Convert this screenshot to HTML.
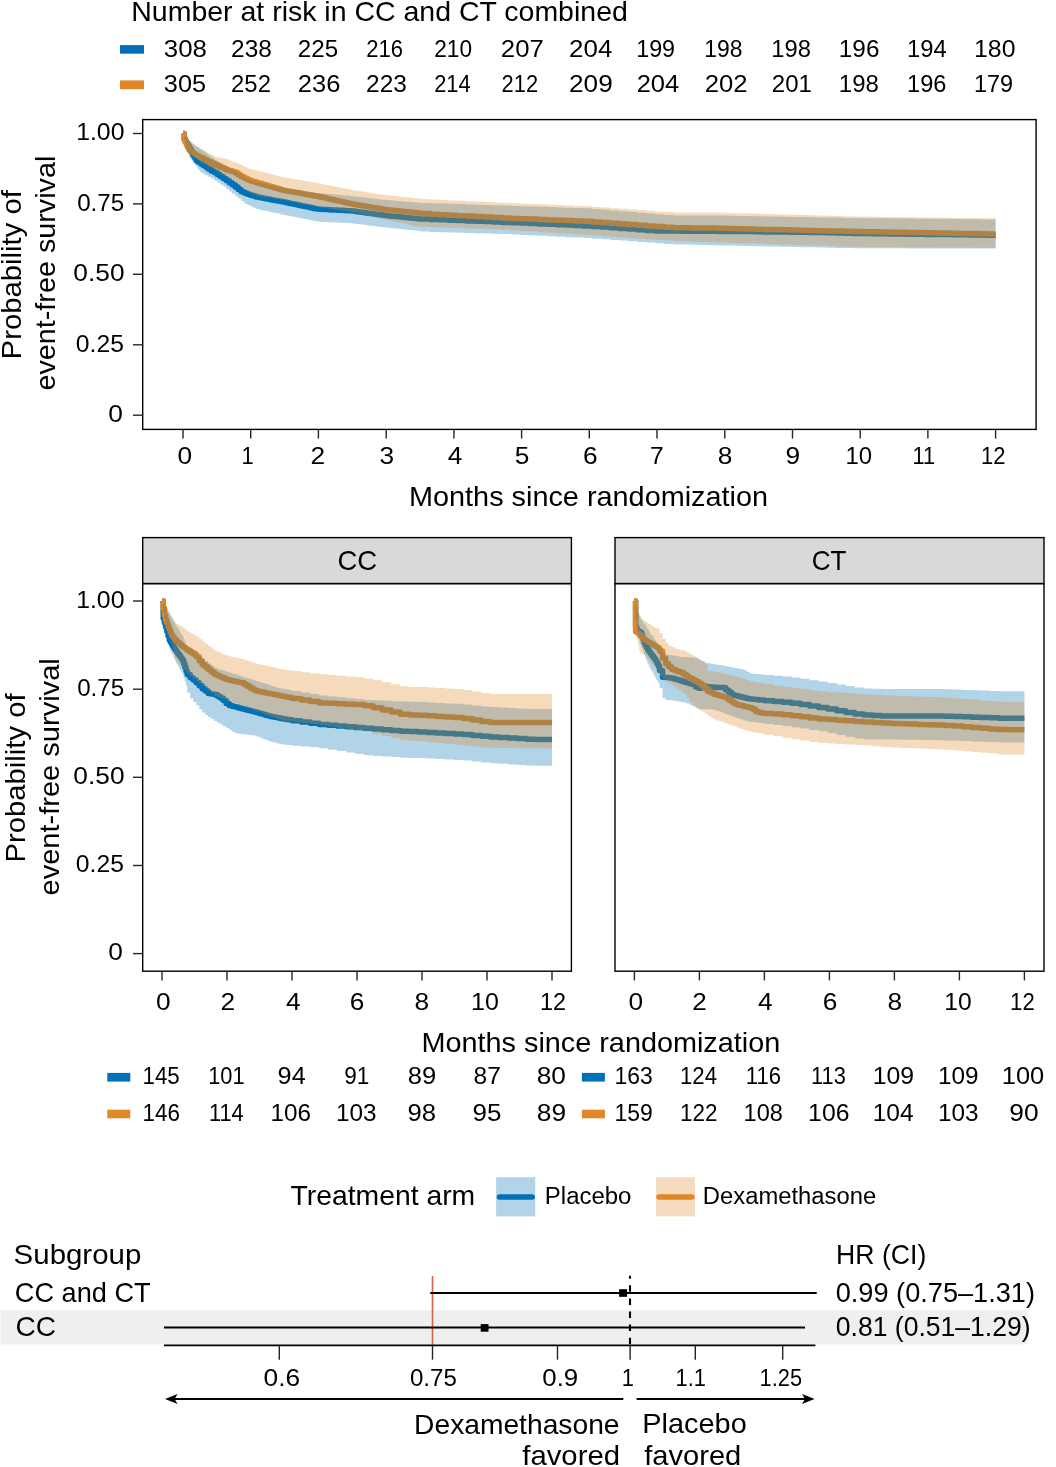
<!DOCTYPE html><html><head><meta charset="utf-8"><style>html,body{margin:0;padding:0;background:#fff;}svg{display:block;will-change:transform;}text{font-family:"Liberation Sans", sans-serif;fill:#000;}</style></head><body>
<svg width="1056" height="1467" viewBox="0 0 1056 1467">
<rect width="1056" height="1467" fill="#fff"/>
<text x="131.26" y="21.0" font-size="28" textLength="496.58" lengthAdjust="spacingAndGlyphs">Number at risk in CC and CT combined</text>
<rect x="120" y="45.1" width="24" height="8.6" fill="#0071B6"/>
<rect x="120" y="80.4" width="24" height="8.8" fill="#E08727"/>
<text x="163.81" y="56.7" font-size="23.5" textLength="43.11" lengthAdjust="spacingAndGlyphs">308</text>
<text x="163.83" y="91.9" font-size="23.5" textLength="42.26" lengthAdjust="spacingAndGlyphs">305</text>
<text x="231.05" y="56.7" font-size="23.5" textLength="40.8" lengthAdjust="spacingAndGlyphs">238</text>
<text x="231.08" y="91.9" font-size="23.5" textLength="39.85" lengthAdjust="spacingAndGlyphs">252</text>
<text x="297.86" y="56.7" font-size="23.5" textLength="40.38" lengthAdjust="spacingAndGlyphs">225</text>
<text x="297.8" y="91.9" font-size="23.5" textLength="42.61" lengthAdjust="spacingAndGlyphs">236</text>
<text x="366.17" y="56.7" font-size="23.5" textLength="36.77" lengthAdjust="spacingAndGlyphs">216</text>
<text x="366.05" y="91.9" font-size="23.5" textLength="40.8" lengthAdjust="spacingAndGlyphs">223</text>
<text x="434.24" y="56.7" font-size="23.5" textLength="37.84" lengthAdjust="spacingAndGlyphs">210</text>
<text x="434.19" y="91.9" font-size="23.5" textLength="36.47" lengthAdjust="spacingAndGlyphs">214</text>
<text x="500.89" y="56.7" font-size="23.5" textLength="42.94" lengthAdjust="spacingAndGlyphs">207</text>
<text x="501.62" y="91.9" font-size="23.5" textLength="36.47" lengthAdjust="spacingAndGlyphs">212</text>
<text x="569.08" y="56.7" font-size="23.5" textLength="43.21" lengthAdjust="spacingAndGlyphs">204</text>
<text x="569.06" y="91.9" font-size="23.5" textLength="43.67" lengthAdjust="spacingAndGlyphs">209</text>
<text x="636.21" y="56.7" font-size="23.5" textLength="38.89" lengthAdjust="spacingAndGlyphs">199</text>
<text x="636.7" y="91.9" font-size="23.5" textLength="42.57" lengthAdjust="spacingAndGlyphs">204</text>
<text x="704.34" y="56.7" font-size="23.5" textLength="38.24" lengthAdjust="spacingAndGlyphs">198</text>
<text x="704.79" y="91.9" font-size="23.5" textLength="42.83" lengthAdjust="spacingAndGlyphs">202</text>
<text x="771.28" y="56.7" font-size="23.5" textLength="39.64" lengthAdjust="spacingAndGlyphs">198</text>
<text x="771.87" y="91.9" font-size="23.5" textLength="40.06" lengthAdjust="spacingAndGlyphs">201</text>
<text x="838.84" y="56.7" font-size="23.5" textLength="40.62" lengthAdjust="spacingAndGlyphs">196</text>
<text x="838.87" y="91.9" font-size="23.5" textLength="39.97" lengthAdjust="spacingAndGlyphs">198</text>
<text x="907.08" y="56.7" font-size="23.5" textLength="39.64" lengthAdjust="spacingAndGlyphs">194</text>
<text x="907.1" y="91.9" font-size="23.5" textLength="39.32" lengthAdjust="spacingAndGlyphs">196</text>
<text x="974.0" y="56.7" font-size="23.5" textLength="41.47" lengthAdjust="spacingAndGlyphs">180</text>
<text x="974.11" y="91.9" font-size="23.5" textLength="38.99" lengthAdjust="spacingAndGlyphs">179</text>
<clipPath id="ctop"><rect x="142.7" y="119.6" width="893.3999999999999" height="309.79999999999995"/></clipPath>
<g clip-path="url(#ctop)">
<path d="M183.0,133.5H184.2V138.7H185.4V141.7H186.6V143.8H187.8V145.9H189.0V147.9H190.2V150.0H191.4V152.1H192.6V154.2H193.8V156.3H195.0V158.3H196.2V160.4H197.4V161.4H198.6V162.2H199.8V163.0H201.0V163.9H202.2V164.7H203.4V165.6H204.6V166.3H205.8V167.0H207.0V167.8H208.2V169.0H211.2V170.9H214.2V172.6H217.2V174.4H220.2V176.4H223.2V178.5H226.2V180.6H229.2V182.7H232.2V184.8H235.2V187.1H238.2V189.5H241.2V191.8H244.2V193.0H247.2V194.2H250.2V195.2H253.2V196.1H256.2V197.0H259.2V197.6H262.2V198.2H265.2V198.7H268.2V199.3H271.2V199.9H274.2V200.4H277.2V201.0H280.2V201.5H283.2V202.1H286.2V202.7H289.2V203.4H292.2V204.0H295.2V204.6H298.2V205.2H301.2V205.9H304.2V206.5H307.2V207.1H310.2V207.7H313.2V208.4H316.2V209.0H319.2V209.2H322.2V209.4H325.2V209.5H328.2V209.7H331.2V209.9H334.2V210.0H337.2V210.2H340.2V210.3H343.2V210.5H346.2V210.7H349.2V210.8H352.2V211.1H355.2V211.5H358.2V211.9H361.2V212.3H364.2V212.7H367.2V213.2H370.2V213.6H373.2V214.0H376.2V214.4H379.2V214.8H382.2V215.2H385.2V215.6H388.2V215.9H391.2V216.2H394.2V216.5H397.2V216.8H400.2V217.1H403.2V217.4H406.2V217.7H409.2V218.0H412.2V218.3H415.2V218.6H418.2V218.9H421.2V219.1H430.2V219.5H439.2V219.8H448.2V220.2H457.2V220.6H466.2V220.9H475.2V221.3H484.2V221.6H493.2V222.0H502.2V222.4H511.2V222.8H520.2V223.1H529.2V223.5H538.2V223.9H547.2V224.3H556.2V224.7H565.2V225.1H574.2V225.5H583.2V225.9H592.2V226.4H601.2V227.1H610.2V227.8H619.2V228.4H628.2V229.1H637.2V229.7H646.2V230.4H655.2V231.0H664.2V231.1H673.2V231.1H682.2V231.2H691.2V231.2H700.2V231.3H709.2V231.3H718.2V231.4H727.2V231.5H736.2V231.5H745.2V231.6H754.2V231.7H763.2V231.9H772.2V232.0H781.2V232.1H790.2V232.2H799.2V232.3H808.2V232.4H817.2V232.6H826.2V232.8H835.2V233.0H844.2V233.3H853.2V233.5H862.2V233.6H871.2V233.7H880.2V233.8H889.2V233.9H898.2V234.0H907.2V234.2H916.2V234.3H925.2V234.4H934.2V234.5H943.2V234.6H952.2V234.7H961.2V234.8H970.2V234.9H979.2V235.1H988.2V235.2H995.6" fill="none" stroke="#0071B6" stroke-width="5.5" stroke-linejoin="round"/>
<path d="M183.0,133.5H184.2V139.9H185.4V142.5H186.6V145.2H187.8V147.8H189.0V150.1H190.2V151.0H191.4V151.8H192.6V152.7H193.8V153.5H195.0V154.4H196.2V155.2H197.4V155.8H198.6V156.4H199.8V157.0H201.0V157.6H202.2V158.2H203.4V158.8H204.6V159.4H205.8V160.0H207.0V160.6H208.2V161.7H211.2V163.2H214.2V164.5H217.2V165.9H220.2V167.2H223.2V168.6H226.2V169.9H229.2V170.8H232.2V171.7H235.2V173.1H238.2V174.9H241.2V176.7H244.2V178.2H247.2V179.8H250.2V181.0H253.2V181.8H256.2V182.7H259.2V183.5H262.2V184.4H265.2V185.3H268.2V186.2H271.2V187.1H274.2V187.9H277.2V188.8H280.2V189.7H283.2V190.5H286.2V191.0H289.2V191.6H292.2V192.1H295.2V192.6H298.2V193.1H301.2V193.7H304.2V194.2H307.2V194.7H310.2V195.3H313.2V195.8H316.2V196.3H319.2V197.0H322.2V197.6H325.2V198.3H328.2V199.0H331.2V199.6H334.2V200.3H337.2V201.0H340.2V201.6H343.2V202.3H346.2V203.0H349.2V203.6H352.2V204.2H355.2V204.7H358.2V205.2H361.2V205.7H364.2V206.2H367.2V206.7H370.2V207.2H373.2V207.7H376.2V208.2H379.2V208.7H382.2V209.2H385.2V209.7H388.2V210.0H391.2V210.3H394.2V210.6H397.2V210.9H400.2V211.2H403.2V211.5H406.2V211.8H409.2V212.1H412.2V212.4H415.2V212.7H418.2V213.0H421.2V213.6H430.2V214.2H439.2V214.7H448.2V215.2H457.2V215.7H466.2V216.1H475.2V216.6H484.2V217.1H493.2V217.6H502.2V218.1H511.2V218.4H520.2V218.8H529.2V219.1H538.2V219.5H547.2V219.9H556.2V220.2H565.2V220.6H574.2V220.9H583.2V221.3H592.2V221.9H601.2V222.5H610.2V223.2H619.2V223.9H628.2V224.5H637.2V225.2H646.2V225.9H655.2V226.5H664.2V227.2H673.2V227.7H682.2V227.8H691.2V227.9H700.2V228.0H709.2V228.1H718.2V228.3H727.2V228.5H736.2V228.7H745.2V229.0H754.2V229.2H763.2V229.4H772.2V229.6H781.2V229.8H790.2V230.0H799.2V230.2H808.2V230.5H817.2V230.7H826.2V230.9H835.2V231.1H844.2V231.3H853.2V231.5H862.2V231.7H871.2V231.8H880.2V232.0H889.2V232.2H898.2V232.3H907.2V232.5H916.2V232.6H925.2V232.8H934.2V233.0H943.2V233.1H952.2V233.3H961.2V233.5H970.2V233.6H979.2V233.8H988.2V233.9H995.6" fill="none" stroke="#E08727" stroke-width="5.5" stroke-linejoin="round"/>
<path d="M183.0,133.5H184.2V135.4H185.4V136.6H186.6V137.9H187.8V139.2H189.0V140.4H190.2V141.7H191.4V142.9H192.6V144.1H193.8V144.9H195.0V145.7H196.2V146.5H197.4V147.3H198.6V148.1H199.8V148.9H201.0V149.7H202.2V150.5H203.4V151.3H204.6V152.1H205.8V153.0H207.0V153.9H208.2V155.4H211.2V157.6H214.2V159.8H217.2V161.7H220.2V163.6H223.2V165.5H226.2V167.3H229.2V168.7H232.2V170.0H235.2V171.4H238.2V173.1H241.2V175.1H244.2V177.1H247.2V179.1H250.2V180.5H253.2V181.3H256.2V182.0H259.2V182.7H262.2V183.4H265.2V184.1H268.2V184.8H271.2V185.4H274.2V186.1H277.2V186.8H280.2V187.5H283.2V188.1H286.2V188.5H289.2V189.0H292.2V189.4H295.2V189.9H298.2V190.3H301.2V190.7H304.2V191.2H307.2V191.6H310.2V192.1H313.2V192.5H316.2V193.0H319.2V193.2H322.2V193.5H325.2V193.8H328.2V194.0H331.2V194.3H334.2V194.6H337.2V194.8H340.2V195.1H343.2V195.4H346.2V195.6H349.2V195.9H352.2V196.2H355.2V196.6H358.2V196.9H361.2V197.3H364.2V197.6H367.2V198.0H370.2V198.3H373.2V198.7H376.2V199.0H379.2V199.4H382.2V199.7H385.2V200.1H388.2V200.3H391.2V200.5H394.2V200.8H397.2V201.0H400.2V201.2H403.2V201.5H406.2V201.7H409.2V202.0H412.2V202.2H415.2V202.4H418.2V202.7H421.2V202.9H430.2V203.2H439.2V203.5H448.2V203.8H457.2V204.1H466.2V204.4H475.2V204.7H484.2V205.0H493.2V205.3H502.2V205.6H511.2V205.9H520.2V206.2H529.2V206.5H538.2V206.8H547.2V207.1H556.2V207.4H565.2V207.7H574.2V208.0H583.2V208.3H592.2V209.0H601.2V209.7H610.2V210.5H619.2V211.2H628.2V212.0H637.2V212.7H646.2V213.5H655.2V214.2H664.2V215.0H673.2V215.5H682.2V215.5H691.2V215.5H700.2V215.5H709.2V215.5H718.2V215.6H727.2V215.8H736.2V215.9H745.2V216.1H754.2V216.3H763.2V216.4H772.2V216.6H781.2V216.8H790.2V216.9H799.2V217.1H808.2V217.3H817.2V217.4H826.2V217.6H835.2V217.8H844.2V217.9H853.2V218.1H862.2V218.2H871.2V218.2H880.2V218.3H889.2V218.4H898.2V218.5H907.2V218.6H916.2V218.7H925.2V218.8H934.2V218.9H943.2V219.0H952.2V219.1H961.2V219.2H970.2V219.3H979.2V219.4H988.2V219.5H995.6V248.6H988.2V248.6H979.2V248.5H970.2V248.5H961.2V248.5H952.2V248.5H943.2V248.4H934.2V248.4H925.2V248.4H916.2V248.4H907.2V248.3H898.2V248.3H889.2V248.3H880.2V248.3H871.2V248.2H862.2V248.2H853.2V248.1H844.2V247.9H835.2V247.7H826.2V247.5H817.2V247.3H808.2V247.2H799.2V247.0H790.2V246.8H781.2V246.6H772.2V246.4H763.2V246.2H754.2V246.0H745.2V245.8H736.2V245.6H727.2V245.4H718.2V245.2H709.2V245.0H700.2V244.8H691.2V244.6H682.2V244.4H673.2V243.9H664.2V243.2H655.2V242.6H646.2V241.9H637.2V241.3H628.2V240.6H619.2V240.0H610.2V239.3H601.2V238.7H592.2V238.1H583.2V237.6H574.2V237.2H565.2V236.7H556.2V236.3H547.2V235.8H538.2V235.4H529.2V235.0H520.2V234.5H511.2V234.1H502.2V233.8H493.2V233.5H484.2V233.3H475.2V233.0H466.2V232.7H457.2V232.5H448.2V232.2H439.2V232.0H430.2V231.5H421.2V230.9H418.2V230.6H415.2V230.3H412.2V230.0H409.2V229.7H406.2V229.4H403.2V229.1H400.2V228.8H397.2V228.5H394.2V228.2H391.2V227.9H388.2V227.6H385.2V227.3H382.2V226.9H379.2V226.5H376.2V226.1H373.2V225.7H370.2V225.4H367.2V225.0H364.2V224.6H361.2V224.2H358.2V223.9H355.2V223.5H352.2V223.2H349.2V223.1H346.2V222.9H343.2V222.8H340.2V222.6H337.2V222.5H334.2V222.3H331.2V222.2H328.2V222.0H325.2V221.9H322.2V221.7H319.2V221.5H316.2V220.9H313.2V220.3H310.2V219.7H307.2V219.1H304.2V218.5H301.2V217.9H298.2V217.3H295.2V216.7H292.2V216.1H289.2V215.5H286.2V214.9H283.2V214.3H280.2V213.6H277.2V213.0H274.2V212.4H271.2V211.7H268.2V211.1H265.2V210.4H262.2V209.8H259.2V209.1H256.2V207.8H253.2V206.4H250.2V205.0H247.2V203.4H244.2V201.0H241.2V198.6H238.2V196.2H235.2V193.8H232.2V191.4H229.2V189.0H226.2V186.6H223.2V184.4H220.2V182.4H217.2V180.4H214.2V178.4H211.2V176.7H208.2V175.6H207.0V175.0H205.8V174.4H204.6V173.7H203.4V173.1H202.2V172.5H201.0V171.6H199.8V170.0H198.6V168.4H197.4V166.8H196.2V165.1H195.0V163.5H193.8V161.9H192.6V160.3H191.4V158.7H190.2V157.1H189.0V153.2H187.8V148.8H186.6V144.4H185.4V140.1H184.2V133.5H183.0Z" fill="#0071B6" fill-opacity="0.3"/>
<path d="M183.0,133.5H184.2V135.3H185.4V136.6H186.6V137.8H187.8V139.0H189.0V140.2H190.2V141.5H191.4V142.7H192.6V143.9H193.8V144.6H195.0V145.4H196.2V146.1H197.4V146.8H198.6V147.6H199.8V148.3H201.0V149.0H202.2V149.8H203.4V150.5H204.6V151.2H205.8V151.8H207.0V152.4H208.2V153.5H211.2V155.1H214.2V156.7H217.2V157.4H220.2V158.0H223.2V158.6H226.2V159.3H229.2V160.5H232.2V161.7H235.2V162.8H238.2V164.1H241.2V165.5H244.2V166.9H247.2V168.3H250.2V169.3H253.2V169.9H256.2V170.6H259.2V171.3H262.2V172.1H265.2V172.9H268.2V173.6H271.2V174.4H274.2V175.2H277.2V175.9H280.2V176.7H283.2V177.4H286.2V177.9H289.2V178.4H292.2V179.0H295.2V179.5H298.2V180.0H301.2V180.5H304.2V181.0H307.2V181.6H310.2V182.1H313.2V182.6H316.2V183.1H319.2V183.7H322.2V184.3H325.2V184.9H328.2V185.5H331.2V186.1H334.2V186.7H337.2V187.3H340.2V187.9H343.2V188.5H346.2V189.1H349.2V189.7H352.2V190.2H355.2V190.7H358.2V191.1H361.2V191.6H364.2V192.0H367.2V192.5H370.2V193.0H373.2V193.4H376.2V193.9H379.2V194.3H382.2V194.8H385.2V195.2H388.2V195.5H391.2V195.8H394.2V196.1H397.2V196.4H400.2V196.7H403.2V197.0H406.2V197.3H409.2V197.6H412.2V197.9H415.2V198.2H418.2V198.5H421.2V199.1H430.2V199.6H439.2V200.0H448.2V200.4H457.2V200.8H466.2V201.2H475.2V201.6H484.2V202.0H493.2V202.4H502.2V202.8H511.2V203.2H520.2V203.5H529.2V203.9H538.2V204.3H547.2V204.7H556.2V205.1H565.2V205.5H574.2V205.9H583.2V206.3H592.2V206.9H601.2V207.5H610.2V208.2H619.2V208.8H628.2V209.5H637.2V210.1H646.2V210.8H655.2V211.4H664.2V212.1H673.2V212.6H682.2V212.6H691.2V212.6H700.2V212.6H709.2V212.6H718.2V212.7H727.2V213.0H736.2V213.2H745.2V213.5H754.2V213.7H763.2V214.0H772.2V214.3H781.2V214.5H790.2V214.8H799.2V215.0H808.2V215.3H817.2V215.5H826.2V215.8H835.2V216.1H844.2V216.3H853.2V216.5H862.2V216.6H871.2V216.7H880.2V216.9H889.2V217.0H898.2V217.1H907.2V217.2H916.2V217.4H925.2V217.5H934.2V217.6H943.2V217.7H952.2V217.9H961.2V218.0H970.2V218.1H979.2V218.2H988.2V218.3H995.6V247.8H988.2V247.7H979.2V247.7H970.2V247.6H961.2V247.5H952.2V247.5H943.2V247.4H934.2V247.3H925.2V247.3H916.2V247.2H907.2V247.2H898.2V247.1H889.2V247.0H880.2V247.0H871.2V246.9H862.2V246.8H853.2V246.7H844.2V246.4H835.2V246.1H826.2V245.8H817.2V245.5H808.2V245.3H799.2V245.0H790.2V244.7H781.2V244.4H772.2V244.1H763.2V243.8H754.2V243.5H745.2V243.2H736.2V242.9H727.2V242.7H718.2V242.3H709.2V242.0H700.2V241.7H691.2V241.4H682.2V241.1H673.2V240.6H664.2V240.0H655.2V239.4H646.2V238.8H637.2V238.2H628.2V237.6H619.2V237.0H610.2V236.4H601.2V235.7H592.2V235.1H583.2V234.6H574.2V234.0H565.2V233.4H556.2V232.8H547.2V232.2H538.2V231.6H529.2V231.0H520.2V230.4H511.2V229.8H502.2V229.5H493.2V229.1H484.2V228.8H475.2V228.5H466.2V228.2H457.2V227.9H448.2V227.6H439.2V227.3H430.2V227.0H421.2V226.7H418.2V226.1H415.2V225.5H412.2V224.9H409.2V224.3H406.2V223.7H403.2V223.1H400.2V222.5H397.2V221.9H394.2V221.3H391.2V220.7H388.2V220.1H385.2V219.5H382.2V218.8H379.2V218.0H376.2V217.3H373.2V216.6H370.2V215.9H367.2V215.2H364.2V214.5H361.2V213.8H358.2V213.1H355.2V212.4H352.2V211.8H349.2V211.4H346.2V210.9H343.2V210.5H340.2V210.0H337.2V209.6H334.2V209.2H331.2V208.7H328.2V208.3H325.2V207.8H322.2V207.4H319.2V206.9H316.2V206.3H313.2V205.7H310.2V205.1H307.2V204.5H304.2V203.8H301.2V203.2H298.2V202.6H295.2V202.0H292.2V201.4H289.2V200.8H286.2V200.1H283.2V199.7H280.2V199.2H277.2V198.7H274.2V198.3H271.2V197.8H268.2V197.4H265.2V196.9H262.2V196.5H259.2V196.0H256.2V194.5H253.2V193.0H250.2V191.4H247.2V189.8H244.2V187.6H241.2V185.4H238.2V183.2H235.2V181.2H232.2V179.5H229.2V177.7H226.2V176.0H223.2V174.2H220.2V172.3H217.2V170.4H214.2V168.4H211.2V166.8H208.2V165.8H207.0V165.2H205.8V164.6H204.6V164.0H203.4V163.4H202.2V162.8H201.0V162.2H199.8V161.1H198.6V159.8H197.4V158.5H196.2V157.2H195.0V155.9H193.8V154.6H192.6V153.3H191.4V152.0H190.2V150.7H189.0V148.3H187.8V145.0H186.6V141.7H185.4V138.4H184.2V133.5H183.0Z" fill="#E08727" fill-opacity="0.31"/>
</g>
<rect x="142.7" y="119.6" width="893.3999999999999" height="309.79999999999995" fill="none" stroke="#000" stroke-width="1.4"/>
<line x1="133" y1="133.5" x2="142.7" y2="133.5" stroke="#262626" stroke-width="1.4"/>
<text x="76.2" y="140.2" font-size="23.5" textLength="48.29" lengthAdjust="spacingAndGlyphs">1.00</text>
<line x1="133" y1="203.9" x2="142.7" y2="203.9" stroke="#262626" stroke-width="1.4"/>
<text x="77.17" y="210.6" font-size="23.5" textLength="47.1" lengthAdjust="spacingAndGlyphs">0.75</text>
<line x1="133" y1="274.3" x2="142.7" y2="274.3" stroke="#262626" stroke-width="1.4"/>
<text x="73.39" y="281.0" font-size="23.5" textLength="51.15" lengthAdjust="spacingAndGlyphs">0.50</text>
<line x1="133" y1="344.8" x2="142.7" y2="344.8" stroke="#262626" stroke-width="1.4"/>
<text x="75.85" y="351.5" font-size="23.5" textLength="48.14" lengthAdjust="spacingAndGlyphs">0.25</text>
<line x1="133" y1="415.2" x2="142.7" y2="415.2" stroke="#262626" stroke-width="1.4"/>
<text x="108.31" y="421.9" font-size="23.5" textLength="14.64" lengthAdjust="spacingAndGlyphs">0</text>
<line x1="183.0" y1="429.4" x2="183.0" y2="438.6" stroke="#262626" stroke-width="1.4"/>
<text x="177.56" y="463.9" font-size="23.5" textLength="14.64" lengthAdjust="spacingAndGlyphs">0</text>
<line x1="250.7" y1="429.4" x2="250.7" y2="438.6" stroke="#262626" stroke-width="1.4"/>
<text x="241.48" y="463.9" font-size="23.5" textLength="12.16" lengthAdjust="spacingAndGlyphs">1</text>
<line x1="318.4" y1="429.4" x2="318.4" y2="438.6" stroke="#262626" stroke-width="1.4"/>
<text x="310.61" y="463.9" font-size="23.5" textLength="14.64" lengthAdjust="spacingAndGlyphs">2</text>
<line x1="386.2" y1="429.4" x2="386.2" y2="438.6" stroke="#262626" stroke-width="1.4"/>
<text x="379.43" y="463.9" font-size="23.5" textLength="14.64" lengthAdjust="spacingAndGlyphs">3</text>
<line x1="453.9" y1="429.4" x2="453.9" y2="438.6" stroke="#262626" stroke-width="1.4"/>
<text x="447.78" y="463.9" font-size="23.5" textLength="14.64" lengthAdjust="spacingAndGlyphs">4</text>
<line x1="521.6" y1="429.4" x2="521.6" y2="438.6" stroke="#262626" stroke-width="1.4"/>
<text x="514.71" y="463.9" font-size="23.5" textLength="14.64" lengthAdjust="spacingAndGlyphs">5</text>
<line x1="589.3" y1="429.4" x2="589.3" y2="438.6" stroke="#262626" stroke-width="1.4"/>
<text x="583.06" y="463.9" font-size="23.5" textLength="14.64" lengthAdjust="spacingAndGlyphs">6</text>
<line x1="657.0" y1="429.4" x2="657.0" y2="438.6" stroke="#262626" stroke-width="1.4"/>
<text x="650.04" y="463.9" font-size="23.5" textLength="13.68" lengthAdjust="spacingAndGlyphs">7</text>
<line x1="724.8" y1="429.4" x2="724.8" y2="438.6" stroke="#262626" stroke-width="1.4"/>
<text x="717.77" y="463.9" font-size="23.5" textLength="14.64" lengthAdjust="spacingAndGlyphs">8</text>
<line x1="792.5" y1="429.4" x2="792.5" y2="438.6" stroke="#262626" stroke-width="1.4"/>
<text x="785.61" y="463.9" font-size="23.5" textLength="14.64" lengthAdjust="spacingAndGlyphs">9</text>
<line x1="860.2" y1="429.4" x2="860.2" y2="438.6" stroke="#262626" stroke-width="1.4"/>
<text x="845.57" y="463.9" font-size="23.5" textLength="26.59" lengthAdjust="spacingAndGlyphs">10</text>
<line x1="927.9" y1="429.4" x2="927.9" y2="438.6" stroke="#262626" stroke-width="1.4"/>
<text x="912.52" y="463.9" font-size="23.5" textLength="22.69" lengthAdjust="spacingAndGlyphs">11</text>
<line x1="995.6" y1="429.4" x2="995.6" y2="438.6" stroke="#262626" stroke-width="1.4"/>
<text x="981.02" y="463.9" font-size="23.5" textLength="24.45" lengthAdjust="spacingAndGlyphs">12</text>
<text x="409.03" y="505.9" font-size="28" textLength="359.04" lengthAdjust="spacingAndGlyphs">Months since randomization</text>
<text transform="translate(21.3,0) rotate(-90)" x="-359.41" y="0" font-size="28" textLength="169.37" lengthAdjust="spacingAndGlyphs">Probability of</text>
<text transform="translate(54.5,0) rotate(-90)" x="-390.53" y="0" font-size="28" textLength="234.84" lengthAdjust="spacingAndGlyphs">event-free survival</text>
<clipPath id="ccc"><rect x="142.7" y="583.6" width="428.7" height="387.6"/></clipPath>
<g clip-path="url(#ccc)">
<path d="M162.0,601.0H163.2V618.3H164.4V622.7H165.6V627.0H166.8V631.3H168.0V635.7H169.2V640.0H170.4V642.2H171.6V644.1H172.8V646.0H174.0V647.9H175.2V649.9H176.4V651.7H177.6V653.4H178.8V655.1H180.0V656.8H181.2V658.5H182.4V660.2H183.6V663.6H184.8V667.1H186.0V670.7H187.2V674.6H190.2V677.7H193.2V680.1H196.2V682.8H199.2V685.8H202.2V688.7H205.2V691.0H208.2V693.4H211.2V694.0H214.2V694.6H217.2V696.2H220.2V698.0H223.2V700.5H226.2V703.5H229.2V705.6H232.2V706.4H235.2V707.1H238.2V707.9H241.2V708.7H244.2V709.4H247.2V710.2H250.2V710.9H253.2V711.7H256.2V712.5H259.2V713.4H262.2V714.3H265.2V715.2H268.2V716.1H271.2V716.7H274.2V717.3H277.2V717.8H280.2V718.4H283.2V718.9H286.2V719.4H289.2V719.8H292.2V720.7H301.2V722.0H310.2V723.3H319.2V724.6H328.2V725.3H337.2V726.1H346.2V726.8H355.2V727.5H364.2V728.3H373.2V729.1H382.2V729.8H391.2V730.6H400.2V731.3H409.2V731.6H418.2V731.9H427.2V732.4H436.2V732.9H445.2V733.4H454.2V733.9H463.2V734.6H472.2V735.4H481.2V736.2H490.2V736.9H499.2V737.5H508.2V738.1H517.2V738.6H526.2V739.2H535.2V739.4H544.2V739.4H552.0" fill="none" stroke="#0071B6" stroke-width="5.5" stroke-linejoin="round"/>
<path d="M162.0,601.0H163.2V608.0H164.4V615.3H165.6V619.4H166.8V623.0H168.0V626.5H169.2V629.6H170.4V632.8H171.6V635.5H172.8V637.0H174.0V638.4H175.2V639.9H176.4V641.2H177.6V642.3H178.8V643.3H180.0V644.3H181.2V645.4H182.4V646.4H183.6V647.2H184.8V648.0H186.0V648.9H187.2V650.3H190.2V652.2H193.2V654.0H196.2V656.8H199.2V661.0H202.2V664.8H205.2V667.1H208.2V669.5H211.2V671.9H214.2V674.3H217.2V675.8H220.2V677.0H223.2V678.2H226.2V679.4H229.2V680.3H232.2V681.0H235.2V681.6H238.2V682.2H241.2V682.8H244.2V684.5H247.2V686.3H250.2V688.2H253.2V690.0H256.2V691.1H259.2V691.7H262.2V692.3H265.2V692.9H268.2V693.5H271.2V694.1H274.2V694.7H277.2V695.3H280.2V695.9H283.2V696.5H286.2V697.0H289.2V697.5H292.2V698.5H301.2V700.0H310.2V701.5H319.2V702.9H328.2V703.3H337.2V703.7H346.2V704.2H355.2V704.6H364.2V705.7H373.2V707.8H382.2V709.9H391.2V712.1H400.2V714.2H409.2V714.9H418.2V715.2H427.2V715.8H436.2V716.4H445.2V717.0H454.2V717.5H463.2V718.6H472.2V720.1H481.2V721.6H490.2V722.5H499.2V722.5H508.2V722.5H517.2V722.5H526.2V722.5H535.2V722.5H544.2V722.5H552.0" fill="none" stroke="#E08727" stroke-width="5.5" stroke-linejoin="round"/>
<path d="M162.0,601.0H163.2V603.9H164.4V605.9H165.6V607.8H166.8V609.8H168.0V611.7H169.2V613.7H170.4V615.8H171.6V618.0H172.8V620.2H174.0V622.4H175.2V624.5H176.4V626.6H177.6V628.5H178.8V630.5H180.0V632.4H181.2V634.3H182.4V636.2H183.6V639.2H184.8V642.2H186.0V645.1H187.2V646.8H190.2V649.2H193.2V651.7H196.2V654.1H199.2V656.5H202.2V658.8H205.2V661.0H208.2V663.3H211.2V665.5H214.2V667.8H217.2V669.0H220.2V669.9H223.2V670.8H226.2V671.8H229.2V672.7H232.2V673.7H235.2V674.6H238.2V675.6H241.2V676.5H244.2V677.5H247.2V678.4H250.2V679.3H253.2V680.3H256.2V681.2H259.2V682.2H262.2V683.1H265.2V684.1H268.2V685.0H271.2V686.0H274.2V686.9H277.2V687.9H280.2V688.6H283.2V689.1H286.2V689.6H289.2V690.1H292.2V691.1H301.2V692.6H310.2V694.1H319.2V695.5H328.2V696.4H337.2V697.3H346.2V698.2H355.2V699.1H364.2V699.9H373.2V700.3H382.2V700.8H391.2V701.2H400.2V701.6H409.2V701.8H418.2V702.0H427.2V702.5H436.2V702.9H445.2V703.4H454.2V703.8H463.2V704.5H472.2V705.4H481.2V706.4H490.2V707.1H499.2V707.5H508.2V708.0H517.2V708.4H526.2V708.9H535.2V709.0H544.2V709.0H552.0V765.8H544.2V765.8H535.2V765.6H526.2V765.0H517.2V764.4H508.2V763.8H499.2V763.2H490.2V762.5H481.2V761.5H472.2V760.6H463.2V759.9H454.2V759.5H445.2V759.0H436.2V758.6H427.2V758.1H418.2V757.9H409.2V757.7H400.2V757.1H391.2V756.5H382.2V755.9H373.2V755.2H364.2V754.1H355.2V752.6H346.2V751.1H337.2V749.7H328.2V748.2H319.2V747.3H310.2V746.5H301.2V745.7H292.2V745.1H289.2V744.9H286.2V744.6H283.2V744.2H280.2V743.4H277.2V742.7H274.2V741.9H271.2V741.2H268.2V740.1H265.2V738.9H262.2V737.6H259.2V736.4H256.2V735.6H253.2V735.2H250.2V734.8H247.2V734.4H244.2V734.0H241.2V733.7H238.2V733.3H235.2V731.7H232.2V729.9H229.2V728.1H226.2V726.3H223.2V724.5H220.2V722.7H217.2V720.9H214.2V719.1H211.2V717.3H208.2V714.9H205.2V712.6H202.2V709.2H199.2V705.6H196.2V702.0H193.2V698.4H190.2V692.6H187.2V685.9H186.0V682.1H184.8V678.3H183.6V674.6H182.4V672.5H181.2V670.3H180.0V668.1H178.8V666.0H177.6V663.8H176.4V661.5H175.2V659.1H174.0V656.7H172.8V654.3H171.6V651.9H170.4V649.1H169.2V641.7H168.0V634.3H166.8V626.9H165.6V619.5H164.4V612.1H163.2V601.0H162.0Z" fill="#0071B6" fill-opacity="0.3"/>
<path d="M162.0,601.0H163.2V602.6H164.4V604.0H165.6V606.3H166.8V608.5H168.0V610.8H169.2V613.0H170.4V615.4H171.6V617.8H172.8V620.0H174.0V621.5H175.2V623.0H176.4V624.0H177.6V624.6H178.8V625.2H180.0V625.8H181.2V626.4H182.4V627.0H183.6V628.0H184.8V628.9H186.0V629.9H187.2V631.5H190.2V633.3H193.2V634.8H196.2V636.7H199.2V639.2H202.2V641.6H205.2V643.9H208.2V646.3H211.2V648.4H214.2V650.6H217.2V652.0H220.2V653.2H223.2V654.4H226.2V655.6H229.2V656.5H232.2V657.1H235.2V657.7H238.2V658.3H241.2V658.9H244.2V659.9H247.2V661.0H250.2V662.0H253.2V663.1H256.2V663.9H259.2V664.5H262.2V665.1H265.2V665.7H268.2V666.3H271.2V667.0H274.2V667.8H277.2V668.5H280.2V669.3H283.2V669.7H286.2V670.1H289.2V670.4H292.2V671.1H301.2V672.2H310.2V673.2H319.2V674.2H328.2V674.9H337.2V675.7H346.2V676.4H355.2V677.1H364.2V678.4H373.2V680.3H382.2V682.3H391.2V684.3H400.2V686.2H409.2V686.9H418.2V687.1H427.2V687.6H436.2V688.0H445.2V688.5H454.2V688.9H463.2V690.0H472.2V691.6H481.2V693.2H490.2V694.1H499.2V694.1H508.2V694.1H517.2V694.1H526.2V694.1H535.2V694.1H544.2V694.1H552.0V748.4H544.2V748.3H535.2V748.3H526.2V748.2H517.2V748.1H508.2V748.1H499.2V748.0H490.2V747.5H481.2V746.6H472.2V745.7H463.2V744.8H454.2V743.9H445.2V743.0H436.2V742.2H427.2V741.3H418.2V740.9H409.2V740.2H400.2V738.1H391.2V736.0H382.2V733.9H373.2V731.8H364.2V730.2H355.2V729.0H346.2V727.7H337.2V726.4H328.2V725.2H319.2V724.1H310.2V723.1H301.2V722.2H292.2V721.5H289.2V721.2H286.2V720.8H283.2V720.3H280.2V719.2H277.2V718.0H274.2V716.9H271.2V715.8H268.2V714.7H265.2V713.6H262.2V712.5H259.2V711.4H256.2V710.2H253.2V709.1H250.2V708.0H247.2V706.9H244.2V705.8H241.2V704.7H238.2V703.6H235.2V702.5H232.2V701.3H229.2V700.2H226.2V699.1H223.2V698.0H220.2V696.9H217.2V695.5H214.2V693.1H211.2V690.7H208.2V688.3H205.2V685.9H202.2V683.5H199.2V681.1H196.2V678.7H193.2V676.3H190.2V673.7H187.2V671.6H186.0V670.4H184.8V669.2H183.6V668.1H182.4V666.9H181.2V665.7H180.0V664.5H178.8V663.3H177.6V662.1H176.4V658.7H175.2V653.7H174.0V648.6H172.8V643.6H171.6V638.6H170.4V633.6H169.2V628.6H168.0V623.6H166.8V618.6H165.6V613.5H164.4V608.5H163.2V601.0H162.0Z" fill="#E08727" fill-opacity="0.31"/>
</g>
<rect x="142.7" y="537.6" width="428.7" height="46.0" fill="#D9D9D9" stroke="#000" stroke-width="1.4"/>
<rect x="142.7" y="583.6" width="428.7" height="387.6" fill="none" stroke="#000" stroke-width="1.4"/>
<text x="337.53" y="569.6" font-size="28" textLength="39.69" lengthAdjust="spacingAndGlyphs">CC</text>
<line x1="162" y1="971.2" x2="162" y2="980.4" stroke="#262626" stroke-width="1.4"/>
<text x="156.01" y="1010.2" font-size="23.5" textLength="14.64" lengthAdjust="spacingAndGlyphs">0</text>
<line x1="227" y1="971.2" x2="227" y2="980.4" stroke="#262626" stroke-width="1.4"/>
<text x="220.61" y="1010.2" font-size="23.5" textLength="14.64" lengthAdjust="spacingAndGlyphs">2</text>
<line x1="292" y1="971.2" x2="292" y2="980.4" stroke="#262626" stroke-width="1.4"/>
<text x="285.98" y="1010.2" font-size="23.5" textLength="14.64" lengthAdjust="spacingAndGlyphs">4</text>
<line x1="357" y1="971.2" x2="357" y2="980.4" stroke="#262626" stroke-width="1.4"/>
<text x="349.86" y="1010.2" font-size="23.5" textLength="14.64" lengthAdjust="spacingAndGlyphs">6</text>
<line x1="422" y1="971.2" x2="422" y2="980.4" stroke="#262626" stroke-width="1.4"/>
<text x="414.57" y="1010.2" font-size="23.5" textLength="14.64" lengthAdjust="spacingAndGlyphs">8</text>
<line x1="487" y1="971.2" x2="487" y2="980.4" stroke="#262626" stroke-width="1.4"/>
<text x="471.09" y="1010.2" font-size="23.5" textLength="27.81" lengthAdjust="spacingAndGlyphs">10</text>
<line x1="552" y1="971.2" x2="552" y2="980.4" stroke="#262626" stroke-width="1.4"/>
<text x="540.01" y="1010.2" font-size="23.5" textLength="26.03" lengthAdjust="spacingAndGlyphs">12</text>
<clipPath id="cct"><rect x="615.0" y="583.6" width="429.0" height="387.6"/></clipPath>
<g clip-path="url(#cct)">
<path d="M634.4,601.0H635.6V627.1H636.8V630.4H638.0V631.0H639.2V631.5H640.4V632.3H641.6V635.7H642.8V639.1H644.0V642.5H645.2V645.0H646.4V647.2H647.6V649.5H648.8V651.4H650.0V653.1H651.2V654.7H652.4V656.3H653.6V658.0H654.8V659.6H656.0V661.4H657.2V663.8H658.4V666.3H659.6V670.5H662.6V677.2H665.6V677.5H668.6V677.8H671.6V678.3H674.6V679.2H677.6V680.0H680.6V680.9H683.6V681.9H686.6V682.8H689.6V683.7H692.6V684.6H695.6V687.0H698.6V688.2H701.6V687.3H704.6V686.6H707.6V686.8H710.6V687.0H713.6V687.2H716.6V687.4H719.6V687.5H722.6V687.6H725.6V690.0H728.6V692.3H731.6V694.7H734.6V695.5H737.6V696.2H740.6V697.0H743.6V697.7H746.6V698.4H749.6V699.1H752.6V699.3H755.6V699.6H758.6V699.9H761.6V700.1H764.6V700.7H773.6V701.5H782.6V702.3H791.6V703.3H800.6V704.6H809.6V706.0H818.6V707.4H827.6V709.1H836.6V710.7H845.6V712.4H854.6V714.0H863.6V715.1H872.6V715.5H881.6V715.9H890.6V716.1H899.6V716.1H908.6V716.1H917.6V716.1H926.6V716.1H935.6V716.1H944.6V716.2H953.6V716.5H962.6V716.8H971.6V717.2H980.6V717.5H989.6V717.8H998.6V718.2H1007.6V718.2H1016.6V718.2H1024.4" fill="none" stroke="#0071B6" stroke-width="5.5" stroke-linejoin="round"/>
<path d="M634.4,601.0H635.6V631.7H636.8V632.4H638.0V633.2H639.2V634.5H640.4V635.8H641.6V637.1H642.8V638.4H644.0V639.5H645.2V640.2H646.4V641.0H647.6V641.7H648.8V642.4H650.0V643.1H651.2V643.9H652.4V644.6H653.6V645.3H654.8V646.0H656.0V646.7H657.2V647.3H658.4V648.0H659.6V651.1H662.6V658.3H665.6V663.7H668.6V666.8H671.6V669.3H674.6V670.4H677.6V671.4H680.6V672.5H683.6V674.6H686.6V676.7H689.6V678.4H692.6V679.9H695.6V681.5H698.6V683.3H701.6V685.2H704.6V688.6H707.6V691.2H710.6V692.7H713.6V694.2H716.6V695.0H719.6V695.9H722.6V696.7H725.6V697.8H728.6V700.0H731.6V702.1H734.6V704.1H737.6V704.9H740.6V705.6H743.6V706.4H746.6V707.1H749.6V707.7H752.6V709.3H755.6V711.6H758.6V712.6H761.6V712.9H764.6V713.4H773.6V714.1H782.6V714.8H791.6V715.7H800.6V716.8H809.6V718.0H818.6V719.0H827.6V719.6H836.6V720.2H845.6V720.8H854.6V721.4H863.6V721.9H872.6V722.4H881.6V723.0H890.6V723.4H899.6V723.7H908.6V724.0H917.6V724.4H926.6V724.7H935.6V725.0H944.6V725.4H953.6V726.1H962.6V726.8H971.6V727.5H980.6V728.2H989.6V728.9H998.6V729.6H1007.6V729.7H1016.6V729.7H1024.4" fill="none" stroke="#E08727" stroke-width="5.5" stroke-linejoin="round"/>
<path d="M634.4,601.0H635.6V606.1H636.8V609.5H638.0V612.9H639.2V616.3H640.4V618.8H641.6V620.5H642.8V622.2H644.0V623.9H645.2V625.6H646.4V627.6H647.6V629.5H648.8V631.4H650.0V633.3H651.2V635.0H652.4V636.6H653.6V638.3H654.8V640.0H656.0V641.7H657.2V643.4H658.4V645.0H659.6V648.1H662.6V652.9H665.6V654.5H668.6V655.1H671.6V655.6H674.6V656.0H677.6V656.5H680.6V656.9H683.6V657.0H686.6V657.2H689.6V657.3H692.6V657.4H695.6V658.1H698.6V659.8H701.6V661.2H704.6V662.5H707.6V663.3H710.6V663.8H713.6V664.2H716.6V664.7H719.6V665.1H722.6V665.7H725.6V666.3H728.6V666.9H731.6V667.5H734.6V668.1H737.6V668.7H740.6V669.3H743.6V669.9H746.6V671.8H749.6V673.5H752.6V673.7H755.6V674.0H758.6V674.2H761.6V674.5H764.6V675.0H773.6V675.7H782.6V676.5H791.6V677.5H800.6V678.8H809.6V680.2H818.6V681.6H827.6V683.1H836.6V684.6H845.6V686.1H854.6V687.6H863.6V688.5H872.6V688.7H881.6V689.0H890.6V689.1H899.6V689.1H908.6V689.1H917.6V689.1H926.6V689.1H935.6V689.1H944.6V689.2H953.6V689.5H962.6V689.9H971.6V690.2H980.6V690.6H989.6V690.9H998.6V691.3H1007.6V691.3H1016.6V691.3H1024.4V742.4H1016.6V742.4H1007.6V742.4H998.6V742.0H989.6V741.7H980.6V741.4H971.6V741.0H962.6V740.7H953.6V740.4H944.6V740.2H935.6V740.1H926.6V739.9H917.6V739.8H908.6V739.7H899.6V739.6H890.6V739.5H881.6V739.5H872.6V739.5H863.6V738.5H854.6V736.7H845.6V734.9H836.6V733.1H827.6V731.3H818.6V729.9H809.6V728.5H800.6V727.2H791.6V726.0H782.6V725.0H773.6V723.9H764.6V723.2H761.6V722.8H758.6V722.5H755.6V722.1H752.6V721.8H749.6V721.3H746.6V720.6H743.6V719.5H740.6V718.5H737.6V717.4H734.6V716.3H731.6V715.3H728.6V714.2H725.6V713.2H722.6V712.1H719.6V711.0H716.6V710.0H713.6V709.3H710.6V709.3H707.6V709.3H704.6V709.3H701.6V709.3H698.6V707.9H695.6V706.4H692.6V704.9H689.6V703.4H686.6V702.4H683.6V701.9H680.6V701.4H677.6V700.9H674.6V700.5H671.6V700.2H668.6V699.9H665.6V698.1H662.6V687.9H659.6V683.3H658.4V681.3H657.2V679.4H656.0V677.3H654.8V675.2H653.6V673.1H652.4V670.9H651.2V668.8H650.0V666.4H648.8V663.9H647.6V661.1H646.4V658.0H645.2V654.9H644.0V651.7H642.8V648.2H641.6V644.6H640.4V641.1H639.2V637.5H638.0V634.0H636.8V620.8H635.6V601.0H634.4Z" fill="#0071B6" fill-opacity="0.3"/>
<path d="M634.4,601.0H635.6V606.0H636.8V609.3H638.0V612.4H639.2V614.8H640.4V617.2H641.6V619.5H642.8V620.2H644.0V620.9H645.2V621.6H646.4V622.3H647.6V623.1H648.8V623.9H650.0V624.8H651.2V625.7H652.4V626.5H653.6V627.1H654.8V627.6H656.0V628.0H657.2V628.5H658.4V629.0H659.6V632.9H662.6V639.0H665.6V642.7H668.6V645.7H671.6V647.1H674.6V648.4H677.6V649.2H680.6V649.9H683.6V650.8H686.6V652.3H689.6V653.9H692.6V655.7H695.6V657.6H698.6V659.8H701.6V661.2H704.6V664.2H707.6V670.8H710.6V671.3H713.6V671.7H716.6V672.2H719.6V672.7H722.6V673.4H725.6V674.2H728.6V674.9H731.6V675.7H734.6V676.4H737.6V677.2H740.6V677.9H743.6V678.7H746.6V680.0H749.6V681.4H752.6V681.8H755.6V682.3H758.6V682.7H761.6V683.2H764.6V684.1H773.6V685.4H782.6V686.7H791.6V688.0H800.6V689.1H809.6V690.3H818.6V691.3H827.6V691.9H836.6V692.5H845.6V693.1H854.6V693.7H863.6V694.2H872.6V694.7H881.6V695.3H890.6V695.7H899.6V696.0H908.6V696.3H917.6V696.7H926.6V697.0H935.6V697.3H944.6V697.7H953.6V698.4H962.6V699.1H971.6V699.8H980.6V700.5H989.6V701.2H998.6V701.8H1007.6V701.9H1016.6V701.9H1024.4V754.5H1016.6V754.5H1007.6V754.4H998.6V753.6H989.6V752.8H980.6V752.0H971.6V751.3H962.6V750.5H953.6V749.7H944.6V749.2H935.6V748.9H926.6V748.6H917.6V748.2H908.6V747.9H899.6V747.6H890.6V747.0H881.6V746.3H872.6V745.5H863.6V744.9H854.6V744.5H845.6V744.0H836.6V743.6H827.6V743.1H818.6V741.9H809.6V740.6H800.6V739.3H791.6V737.8H782.6V736.3H773.6V734.8H764.6V733.8H761.6V733.3H758.6V732.8H755.6V732.3H752.6V731.8H749.6V731.0H746.6V730.1H743.6V729.0H740.6V727.9H737.6V726.8H734.6V725.8H731.6V724.7H728.6V723.6H725.6V722.5H722.6V721.4H719.6V720.4H716.6V719.3H713.6V717.8H710.6V715.7H707.6V713.6H704.6V711.5H701.6V709.4H698.6V707.3H695.6V705.2H692.6V702.2H689.6V698.2H686.6V694.1H683.6V691.8H680.6V689.6H677.6V687.4H674.6V685.3H671.6V683.5H668.6V681.7H665.6V679.6H662.6V675.7H659.6V673.0H658.4V671.5H657.2V670.0H656.0V668.4H654.8V666.9H653.6V665.3H652.4V663.8H651.2V662.3H650.0V660.6H648.8V659.0H647.6V657.4H646.4V655.7H645.2V654.8H644.0V654.3H642.8V653.7H641.6V653.2H640.4V650.3H639.2V645.2H638.0V640.0H636.8V624.4H635.6V601.0H634.4Z" fill="#E08727" fill-opacity="0.31"/>
</g>
<rect x="615.0" y="537.6" width="429.0" height="46.0" fill="#D9D9D9" stroke="#000" stroke-width="1.4"/>
<rect x="615.0" y="583.6" width="429.0" height="387.6" fill="none" stroke="#000" stroke-width="1.4"/>
<text x="811.68" y="569.6" font-size="28" textLength="34.71" lengthAdjust="spacingAndGlyphs">CT</text>
<line x1="634.4" y1="971.2" x2="634.4" y2="980.4" stroke="#262626" stroke-width="1.4"/>
<text x="628.56" y="1010.2" font-size="23.5" textLength="14.64" lengthAdjust="spacingAndGlyphs">0</text>
<line x1="699.4" y1="971.2" x2="699.4" y2="980.4" stroke="#262626" stroke-width="1.4"/>
<text x="692.27" y="1010.2" font-size="23.5" textLength="14.54" lengthAdjust="spacingAndGlyphs">2</text>
<line x1="764.4" y1="971.2" x2="764.4" y2="980.4" stroke="#262626" stroke-width="1.4"/>
<text x="757.98" y="1010.2" font-size="23.5" textLength="14.64" lengthAdjust="spacingAndGlyphs">4</text>
<line x1="829.4" y1="971.2" x2="829.4" y2="980.4" stroke="#262626" stroke-width="1.4"/>
<text x="822.86" y="1010.2" font-size="23.5" textLength="14.64" lengthAdjust="spacingAndGlyphs">6</text>
<line x1="894.4" y1="971.2" x2="894.4" y2="980.4" stroke="#262626" stroke-width="1.4"/>
<text x="887.57" y="1010.2" font-size="23.5" textLength="14.64" lengthAdjust="spacingAndGlyphs">8</text>
<line x1="959.4" y1="971.2" x2="959.4" y2="980.4" stroke="#262626" stroke-width="1.4"/>
<text x="944.32" y="1010.2" font-size="23.5" textLength="27.36" lengthAdjust="spacingAndGlyphs">10</text>
<line x1="1024.4" y1="971.2" x2="1024.4" y2="980.4" stroke="#262626" stroke-width="1.4"/>
<text x="1010.1" y="1010.2" font-size="23.5" textLength="24.68" lengthAdjust="spacingAndGlyphs">12</text>
<line x1="133" y1="601" x2="142.6" y2="601" stroke="#262626" stroke-width="1.4"/>
<text x="76.2" y="607.7" font-size="23.5" textLength="48.29" lengthAdjust="spacingAndGlyphs">1.00</text>
<line x1="133" y1="689.2" x2="142.6" y2="689.2" stroke="#262626" stroke-width="1.4"/>
<text x="77.17" y="695.9" font-size="23.5" textLength="47.1" lengthAdjust="spacingAndGlyphs">0.75</text>
<line x1="133" y1="777.3" x2="142.6" y2="777.3" stroke="#262626" stroke-width="1.4"/>
<text x="73.39" y="784.0" font-size="23.5" textLength="51.15" lengthAdjust="spacingAndGlyphs">0.50</text>
<line x1="133" y1="865.5" x2="142.6" y2="865.5" stroke="#262626" stroke-width="1.4"/>
<text x="75.85" y="872.2" font-size="23.5" textLength="48.14" lengthAdjust="spacingAndGlyphs">0.25</text>
<line x1="133" y1="953.6" x2="142.6" y2="953.6" stroke="#262626" stroke-width="1.4"/>
<text x="108.31" y="960.3" font-size="23.5" textLength="14.64" lengthAdjust="spacingAndGlyphs">0</text>
<text x="421.53" y="1051.8" font-size="28" textLength="358.74" lengthAdjust="spacingAndGlyphs">Months since randomization</text>
<text transform="translate(24.5,0) rotate(-90)" x="-862.4" y="0" font-size="28" textLength="168.96" lengthAdjust="spacingAndGlyphs">Probability of</text>
<text transform="translate(59.0,0) rotate(-90)" x="-895.44" y="0" font-size="28" textLength="237.17" lengthAdjust="spacingAndGlyphs">event-free survival</text>
<rect x="107.3" y="1072.9" width="23" height="8.7" fill="#0071B6"/>
<rect x="107.3" y="1109.7" width="23" height="8.6" fill="#E08727"/>
<rect x="581.9" y="1072.9" width="23" height="8.7" fill="#0071B6"/>
<rect x="581.9" y="1109.7" width="23" height="8.6" fill="#E08727"/>
<text x="142.49" y="1084.2" font-size="23.5" textLength="37.27" lengthAdjust="spacingAndGlyphs">145</text>
<text x="142.48" y="1121.1" font-size="23.5" textLength="37.37" lengthAdjust="spacingAndGlyphs">146</text>
<text x="614.54" y="1084.2" font-size="23.5" textLength="38.24" lengthAdjust="spacingAndGlyphs">163</text>
<text x="614.54" y="1121.1" font-size="23.5" textLength="38.24" lengthAdjust="spacingAndGlyphs">159</text>
<text x="208.14" y="1084.2" font-size="23.5" textLength="36.47" lengthAdjust="spacingAndGlyphs">101</text>
<text x="208.95" y="1121.1" font-size="23.5" textLength="34.84" lengthAdjust="spacingAndGlyphs">114</text>
<text x="680.0" y="1084.2" font-size="23.5" textLength="36.97" lengthAdjust="spacingAndGlyphs">124</text>
<text x="679.98" y="1121.1" font-size="23.5" textLength="37.48" lengthAdjust="spacingAndGlyphs">122</text>
<text x="277.62" y="1084.2" font-size="23.5" textLength="28.07" lengthAdjust="spacingAndGlyphs">94</text>
<text x="270.64" y="1121.1" font-size="23.5" textLength="40.51" lengthAdjust="spacingAndGlyphs">106</text>
<text x="745.81" y="1084.2" font-size="23.5" textLength="35.19" lengthAdjust="spacingAndGlyphs">116</text>
<text x="743.6" y="1121.1" font-size="23.5" textLength="39.21" lengthAdjust="spacingAndGlyphs">108</text>
<text x="344.35" y="1084.2" font-size="23.5" textLength="25.05" lengthAdjust="spacingAndGlyphs">91</text>
<text x="336.04" y="1121.1" font-size="23.5" textLength="40.51" lengthAdjust="spacingAndGlyphs">103</text>
<text x="810.99" y="1084.2" font-size="23.5" textLength="34.84" lengthAdjust="spacingAndGlyphs">113</text>
<text x="808.1" y="1121.1" font-size="23.5" textLength="41.37" lengthAdjust="spacingAndGlyphs">106</text>
<text x="407.71" y="1084.2" font-size="23.5" textLength="28.42" lengthAdjust="spacingAndGlyphs">89</text>
<text x="407.6" y="1121.1" font-size="23.5" textLength="28.54" lengthAdjust="spacingAndGlyphs">98</text>
<text x="872.7" y="1084.2" font-size="23.5" textLength="41.37" lengthAdjust="spacingAndGlyphs">109</text>
<text x="872.72" y="1121.1" font-size="23.5" textLength="40.92" lengthAdjust="spacingAndGlyphs">104</text>
<text x="473.56" y="1084.2" font-size="23.5" textLength="27.23" lengthAdjust="spacingAndGlyphs">87</text>
<text x="472.59" y="1121.1" font-size="23.5" textLength="28.85" lengthAdjust="spacingAndGlyphs">95</text>
<text x="938.14" y="1084.2" font-size="23.5" textLength="40.51" lengthAdjust="spacingAndGlyphs">109</text>
<text x="938.14" y="1121.1" font-size="23.5" textLength="40.51" lengthAdjust="spacingAndGlyphs">103</text>
<text x="536.78" y="1084.2" font-size="23.5" textLength="29.15" lengthAdjust="spacingAndGlyphs">80</text>
<text x="536.83" y="1121.1" font-size="23.5" textLength="29.28" lengthAdjust="spacingAndGlyphs">89</text>
<text x="1001.85" y="1084.2" font-size="23.5" textLength="42.43" lengthAdjust="spacingAndGlyphs">100</text>
<text x="1009.37" y="1121.1" font-size="23.5" textLength="29.28" lengthAdjust="spacingAndGlyphs">90</text>
<text x="290.49" y="1205" font-size="28" textLength="184.69" lengthAdjust="spacingAndGlyphs">Treatment arm</text>
<rect x="496.1" y="1177.2" width="39.1" height="39.2" fill="#B3D4E8"/>
<line x1="499.5" y1="1197" x2="532.2" y2="1197" stroke="#0071B6" stroke-width="5.6" stroke-linecap="round"/>
<text x="544.86" y="1203.9" font-size="23.5" textLength="86.58" lengthAdjust="spacingAndGlyphs">Placebo</text>
<rect x="656.1" y="1177.2" width="38.8" height="39.2" fill="#F5DBBD"/>
<line x1="659" y1="1197" x2="691.9" y2="1197" stroke="#E08727" stroke-width="5.6" stroke-linecap="round"/>
<text x="702.88" y="1203.7" font-size="23.5" textLength="173.27" lengthAdjust="spacingAndGlyphs">Dexamethasone</text>
<rect x="0.5" y="1310.3" width="1027.5" height="34.2" fill="#EFEFEF"/>
<text x="13.63" y="1264" font-size="28" textLength="127.66" lengthAdjust="spacingAndGlyphs">Subgroup</text>
<text x="836.11" y="1264" font-size="28" textLength="90.17" lengthAdjust="spacingAndGlyphs">HR (CI)</text>
<text x="14.84" y="1301.5" font-size="28" textLength="135.78" lengthAdjust="spacingAndGlyphs">CC and CT</text>
<text x="15.6" y="1335.6" font-size="28" textLength="40.44" lengthAdjust="spacingAndGlyphs">CC</text>
<text x="835.73" y="1302" font-size="28" textLength="199.3" lengthAdjust="spacingAndGlyphs">0.99 (0.75–1.31)</text>
<text x="835.76" y="1335.6" font-size="28" textLength="194.84" lengthAdjust="spacingAndGlyphs">0.81 (0.51–1.29)</text>
<line x1="432.5" y1="1275.9" x2="432.5" y2="1344.8" stroke="#D9604A" stroke-width="1.6"/>
<line x1="630.0" y1="1275.7" x2="630.0" y2="1344.7" stroke="#000" stroke-width="2.1" stroke-dasharray="6.5,6.6" stroke-dashoffset="3.5"/>
<line x1="430.9" y1="1293" x2="816" y2="1293" stroke="#000" stroke-width="1.9" stroke-linecap="round"/>
<rect x="619.1" y="1289.2" width="8" height="7.6" fill="#000"/>
<line x1="164" y1="1327.5" x2="805" y2="1327.5" stroke="#000" stroke-width="1.9"/>
<rect x="480.7" y="1324.1" width="7.8" height="7.6" fill="#000"/>
<line x1="164" y1="1345.4" x2="815.4" y2="1345.4" stroke="#000" stroke-width="1.6"/>
<line x1="279.3" y1="1346" x2="279.3" y2="1359.7" stroke="#262626" stroke-width="1.4"/>
<text x="263.6" y="1386.2" font-size="23.5" textLength="36.59" lengthAdjust="spacingAndGlyphs">0.6</text>
<line x1="432.5" y1="1346" x2="432.5" y2="1359.7" stroke="#262626" stroke-width="1.4"/>
<text x="409.98" y="1386.2" font-size="23.5" textLength="46.89" lengthAdjust="spacingAndGlyphs">0.75</text>
<line x1="557.5" y1="1346" x2="557.5" y2="1359.7" stroke="#262626" stroke-width="1.4"/>
<text x="542.31" y="1386.2" font-size="23.5" textLength="35.97" lengthAdjust="spacingAndGlyphs">0.9</text>
<line x1="630.1" y1="1346" x2="630.1" y2="1359.7" stroke="#262626" stroke-width="1.4"/>
<text x="621.78" y="1386.2" font-size="23.5" textLength="12.16" lengthAdjust="spacingAndGlyphs">1</text>
<line x1="695.3" y1="1346" x2="695.3" y2="1359.7" stroke="#262626" stroke-width="1.4"/>
<text x="675.62" y="1386.2" font-size="23.5" textLength="30.38" lengthAdjust="spacingAndGlyphs">1.1</text>
<line x1="782.7" y1="1346" x2="782.7" y2="1359.7" stroke="#262626" stroke-width="1.4"/>
<text x="759.58" y="1386.2" font-size="23.5" textLength="42.54" lengthAdjust="spacingAndGlyphs">1.25</text>
<line x1="174" y1="1399" x2="623.3" y2="1399" stroke="#000" stroke-width="2"/>
<path d="M165,1399 L177.6,1394 L174.6,1399 L177.6,1404 Z" fill="#000"/>
<line x1="636.6" y1="1399" x2="805" y2="1399" stroke="#000" stroke-width="2"/>
<path d="M814.6,1399 L802,1394 L805,1399 L802,1404 Z" fill="#000"/>
<text x="414.08" y="1434" font-size="28" textLength="205.43" lengthAdjust="spacingAndGlyphs">Dexamethasone</text>
<text x="522.28" y="1464.8" font-size="28" textLength="97.8" lengthAdjust="spacingAndGlyphs">favored</text>
<text x="642.33" y="1433.4" font-size="28" textLength="104.39" lengthAdjust="spacingAndGlyphs">Placebo</text>
<text x="644.28" y="1464.5" font-size="28" textLength="96.98" lengthAdjust="spacingAndGlyphs">favored</text>
</svg></body></html>
